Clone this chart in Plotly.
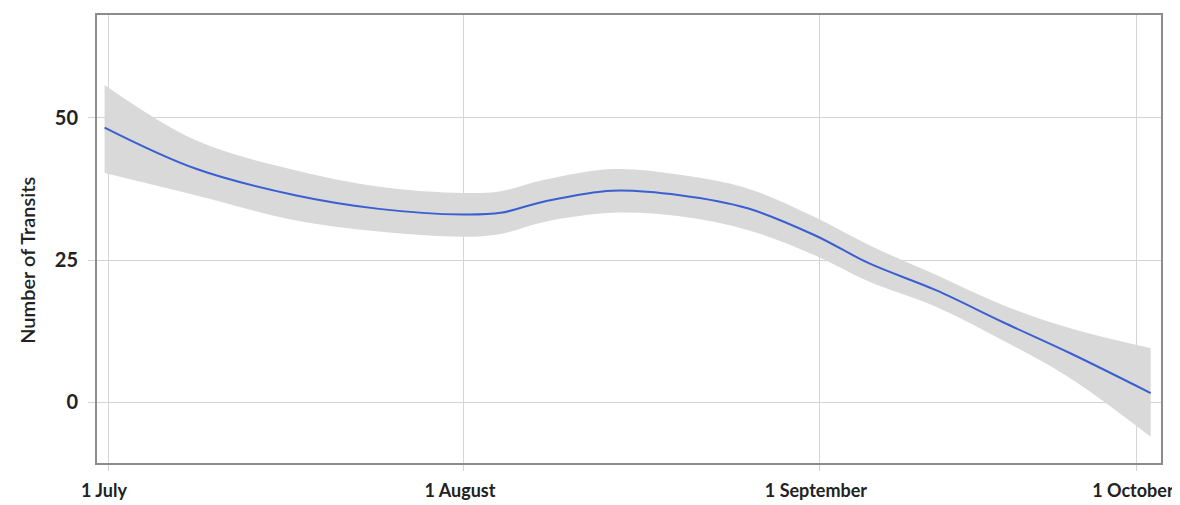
import plotly.graph_objects as go

# Days since 1 July (axis positions as drawn in the chart)
days = [-0.3, 7.6, 16.3, 23.6, 30.9, 34.2, 38.0, 43.9, 49.8, 55.7,
        61.5, 66.3, 72.1, 77.9, 83.8, 90.8]
fit = [48.3, 41.1, 36.4, 34.0, 33.0, 33.3, 35.3, 37.2, 36.4, 34.1,
       29.4, 24.4, 19.7, 14.1, 8.6, 1.6]
upper = [55.8, 46.1, 40.8, 37.9, 36.8, 37.1, 39.1, 41.0, 40.0, 37.6,
         32.6, 27.6, 22.4, 17.1, 13.0, 9.5]
lower = [40.3, 36.4, 32.0, 30.0, 29.1, 29.6, 31.7, 33.3, 32.7, 30.3,
         25.9, 21.2, 16.8, 10.9, 4.2, -6.1]

x_tick_pos = [0, 31, 62, 89.6]
x_tick_text = ["1 July", "1 August", "1 September", "1 October"]
y_tick_pos = [0, 25, 50]
y_tick_text = ["0", "25", "50"]

fig = go.Figure()
fig.add_trace(go.Scatter(x=days, y=upper, mode="lines",
                         line=dict(width=0, shape="spline", color="#d9d9d9"),
                         hoverinfo="skip", showlegend=False))
fig.add_trace(go.Scatter(x=days, y=lower, mode="lines", fill="tonexty",
                         fillcolor="#d9d9d9",
                         line=dict(width=0, shape="spline", color="#d9d9d9"),
                         hoverinfo="skip", showlegend=False))
fig.add_trace(go.Scatter(x=days, y=fit, mode="lines",
                         line=dict(width=2, shape="spline", color="#3b5fd0"),
                         showlegend=False))

font_family = "Lato, 'Open Sans', sans-serif"

fig.update_layout(
    width=1172, height=497,
    margin=dict(l=89, r=19, t=7, b=42),
    paper_bgcolor="white", plot_bgcolor="white",
    font=dict(family=font_family, color="#222222"),
    xaxis=dict(range=[-0.96, 91.7], tickmode="array",
               tickvals=x_tick_pos, ticktext=x_tick_text,
               showgrid=True, gridcolor="#d4d4d4", gridwidth=1,
               zeroline=False, showline=True, linecolor="#8c8c8c",
               linewidth=2, mirror=True, automargin=False,
               ticks="outside", ticklen=6, tickcolor="#d4d4d4",
               ticklabelstandoff=4, ticklabeloverflow="allow",
               ticklabelshift=-4,
               tickfont=dict(size=18, weight="bold", color="#222222")),
    yaxis=dict(range=[-10.7, 68.1], tickmode="array",
               tickvals=y_tick_pos, ticktext=y_tick_text,
               showgrid=True, gridcolor="#d4d4d4", gridwidth=1,
               zeroline=False, showline=True, linecolor="#8c8c8c",
               linewidth=2, mirror=True, automargin=False,
               ticks="outside", ticklen=7, tickcolor="#d4d4d4",
               ticklabelstandoff=6,
               tickfont=dict(size=20, weight="bold", color="#222222")),
    annotations=[dict(text="Number of Transits", textangle=-90,
                      xref="paper", yref="y", x=-0.066, y=25,
                      xanchor="center", yanchor="middle", showarrow=False,
                      font=dict(size=20, weight=600, color="#222222"))],
)

fig.write_html("out.html")
